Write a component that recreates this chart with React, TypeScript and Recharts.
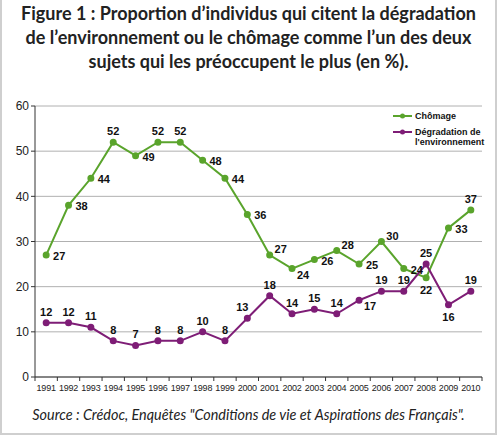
import { LineChart, Line, XAxis, YAxis, CartesianGrid, LabelList } from 'recharts';

const years = ['1991', '1992', '1993', '1994', '1995', '1996', '1997', '1998', '1999', '2000',
  '2001', '2002', '2003', '2004', '2005', '2006', '2007', '2008', '2009', '2010'];
const chomage = [27, 38, 44, 52, 49, 52, 52, 48, 44, 36, 27, 24, 26, 28, 25, 30, 24, 22, 33, 37];
const degradation = [12, 12, 11, 8, 7, 8, 8, 10, 8, 13, 18, 14, 15, 14, 17, 19, 19, 25, 16, 19];
const yTicks = [0, 10, 20, 30, 40, 50, 60];

// where each value label sits relative to its point
const chomageLabelPos = ['r', 'r', 'r', 't', 'r', 't', 't', 'r', 'r', 'r',
  'tr', 'br', 'r', 'tr', 'r', 'tr', 'r', 'b', 'r', 't'];
const degradLabelPos = ['t', 't', 't', 't', 't', 't', 't', 't', 't', 'tl',
  't', 't', 't', 't', 'br', 't', 't', 't', 'b', 't'];

const GREEN = '#5aa42c';
const PURPLE = '#7e1d76';
const FONT = 'Liberation Sans, Arial, sans-serif';

const data = years.map((y, i) => ({ year: y, chomage: chomage[i], degradation: degradation[i] }));

const offsets: Record<string, [number, number]> = {
  r: [13, 1],
  t: [0, -11],
  tr: [11, -6],
  tl: [-5, -11],
  br: [11, 6],
  b: [0, 12],
};

const makeLabel = (pos: string[]) => (props: any) => {
  const { x, y, value, index } = props;
  const [dx, dy] = offsets[pos[index] || 't'];
  return (
    <text x={x + dx} y={y + dy} textAnchor="middle" dominantBaseline="central"
      fontSize={11} fontWeight="bold" fontFamily={FONT} fill="#111">
      {value}
    </text>
  );
};

const YearTick = (props: any) => {
  const { x, y, payload, index } = props;
  const off = payload && payload.offset ? payload.offset : 11.2;
  const axisY = y - 8;
  return (
    <g>
      <line x1={x - off} x2={x - off} y1={axisY} y2={axisY + 4} stroke="#333" />
      {index === years.length - 1 && (
        <line x1={x + off} x2={x + off} y1={axisY} y2={axisY + 4} stroke="#333" />
      )}
      <text x={x} y={y} dy="0.71em" textAnchor="middle" fontSize={9}
        fontFamily={FONT} fill="#222" letterSpacing={-0.2}>
        {payload.value}
      </text>
    </g>
  );
};

const LegendBox = () => (
  <svg width={100} height={40} style={{ overflow: 'visible', display: 'block' }}>
    <line x1={0} x2={19} y1={4} y2={4} stroke={GREEN} strokeWidth={2} />
    <circle cx={9.5} cy={4} r={2.5} fill={GREEN} />
    <text x={22} y={4} dominantBaseline="central" fontSize={9} fontWeight="bold"
      fontFamily={FONT} fill="#111">Chômage</text>
    <line x1={0} x2={19} y1={20} y2={20} stroke={PURPLE} strokeWidth={2} />
    <circle cx={9.5} cy={20} r={2.5} fill={PURPLE} />
    <text x={22} y={20} dominantBaseline="central" fontSize={9} fontWeight="bold"
      fontFamily={FONT} fill="#111">Dégradation de</text>
    <text x={22} y={29.5} dominantBaseline="central" fontSize={9} fontWeight="bold"
      fontFamily={FONT} fill="#111">l'environnement</text>
  </svg>
);

export default function App() {
  return (
    <div style={{ position: 'absolute', left: 0, top: 0, width: 497, height: 435, background: '#fff' }}>
      <div style={{
        position: 'absolute', left: 0, top: 0, width: 497, textAlign: 'center',
        fontFamily: 'Lato, sans-serif', fontWeight: 'bold', fontSize: 18, lineHeight: '24px',
        color: '#222', paddingTop: 1,
      }}>
        Figure 1 : Proportion d’individus qui citent la dégradation<br />
        de l’environnement ou le chômage comme l’un des deux<br />
        sujets qui les préoccupent le plus (en %).
      </div>
      <div style={{ position: 'absolute', left: 0, top: 0 }}>
        <LineChart width={497} height={400} data={data}
          margin={{ top: 106, right: 15, left: 0, bottom: 0 }}>
          <CartesianGrid vertical={false} stroke="#b0b0b0" />
          <XAxis dataKey="year" scale="band" height={23} tickLine={false} tickSize={5} tickMargin={3}
            axisLine={{ stroke: '#333' }} tick={<YearTick />} interval={0} />
          <YAxis width={35} domain={[0, 60]} ticks={yTicks} tickSize={4} tickMargin={2}
            axisLine={{ stroke: '#333' }} tickLine={{ stroke: '#333' }}
            tick={{ fontSize: 12, fill: '#222', fontFamily: FONT }} />
          <Line dataKey="chomage" name="Chômage" stroke={GREEN} strokeWidth={2}
            dot={{ r: 2.5, fill: GREEN, stroke: GREEN }} isAnimationActive={false}>
            <LabelList dataKey="chomage" content={makeLabel(chomageLabelPos)} />
          </Line>
          <Line dataKey="degradation" name="Dégradation de l'environnement" stroke={PURPLE} strokeWidth={2}
            dot={{ r: 2.5, fill: PURPLE, stroke: PURPLE }} isAnimationActive={false}>
            <LabelList dataKey="degradation" content={makeLabel(degradLabelPos)} />
          </Line>
        </LineChart>
      </div>
      <div style={{ position: 'absolute', left: 393, top: 112 }}>
        <LegendBox />
      </div>
      <div style={{
        position: 'absolute', left: 0, top: 406, width: 497, textAlign: 'center',
        fontFamily: 'Lato, sans-serif', fontStyle: 'italic', fontSize: 14.4, color: '#222',
      }}>
        Source : Crédoc, Enquêtes "Conditions de vie et Aspirations des Français".
      </div>
      <div style={{
        position: 'absolute', left: 0, top: 0, width: 497, height: 435, boxSizing: 'border-box',
        borderLeft: '2px solid #cfcfcf', borderRight: '2px solid #cfcfcf', borderBottom: '2px solid #cfcfcf',
        pointerEvents: 'none',
      }} />
    </div>
  );
}
